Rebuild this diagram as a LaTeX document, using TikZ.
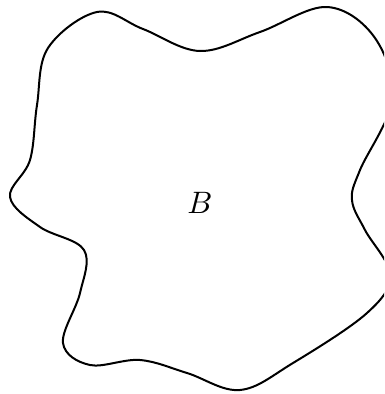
\documentclass[tikz,border=0pt]{standalone}
\tikzset{blob/.style={line width=2pt, line join=round}}
\begin{document}
\begin{tikzpicture}[x=1pt,y=-1pt]
\useasboundingbox (0,0) rectangle (384,394);
\clip (0,0) rectangle (384,394);
\draw[blob] plot[smooth cycle, tension=0.6] coordinates {
(37,105) (48,48) (97,12) (143,29) (200,51) (260,32) (327,7) (375,38) (392,100) (360,170) (352,200) (365,230) (390,275) (367,313) (293,363) (240,390) (187,373) (140,360) (90,365) (63,343) (80,293) (84,250) (40,227) (10,197) (30,160)};
\node[scale=3.1] (B) at (200,203) {$B$};
\end{tikzpicture}
\end{document}
